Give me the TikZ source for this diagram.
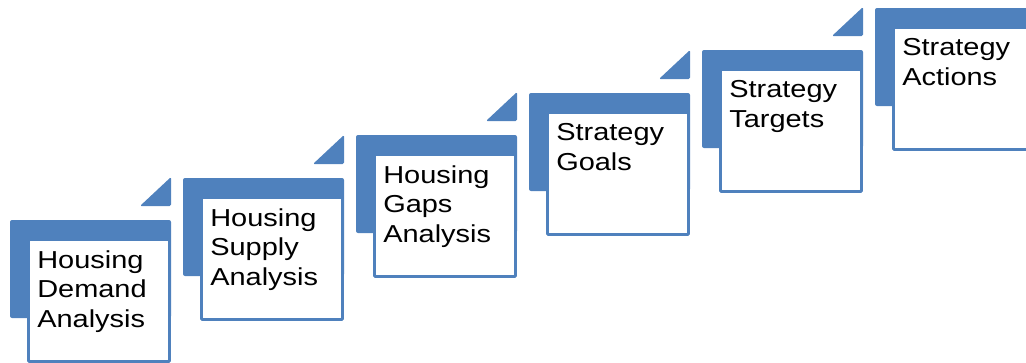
\documentclass[tikz,border=0pt]{standalone}
\usepackage{fontspec}
\newfontfamily\stepfont[FakeStretch=1.18]{Liberation Sans}
\definecolor{stepblue}{RGB}{79,129,189}
\tikzset{
  backbar/.style={fill=stepblue, rounded corners=1.5pt},
  corner/.style={fill=stepblue, rounded corners=1pt},
  stepbox/.style={fill=white, draw=stepblue, line width=2.2pt, rounded corners=0.8pt},
  steptext/.style={anchor=north west, inner sep=0pt, align=left, text=black,
    font=\stepfont\fontsize{18.4}{22.4}\selectfont}
}
\begin{document}
\begin{tikzpicture}[x=0.75pt,y=0.75pt,yscale=-1,xscale=1]
\useasboundingbox (0,0) rectangle (1026,362);

%Shape: Step 1
\fill [backbar] (10,220) rectangle (171,318) ;
\fill [corner] (140,206) -- (171,177) -- (171,206) -- cycle ;
\draw [stepbox] (28.5,239.5) rectangle (169.5,361.5) ;
%Shape: Step 2
\fill [backbar] (183,178) rectangle (344,276) ;
\fill [corner] (313,164) -- (344,135) -- (344,164) -- cycle ;
\draw [stepbox] (201.5,197.5) rectangle (342.5,319.5) ;
%Shape: Step 3
\fill [backbar] (356,135) rectangle (517,233) ;
\fill [corner] (486,121) -- (517,92) -- (517,121) -- cycle ;
\draw [stepbox] (374.5,154.5) rectangle (515.5,276.5) ;
%Shape: Step 4
\fill [backbar] (529,93) rectangle (690,191) ;
\fill [corner] (659,79) -- (690,50) -- (690,79) -- cycle ;
\draw [stepbox] (547.5,112.5) rectangle (688.5,234.5) ;
%Shape: Step 5
\fill [backbar] (702,50) rectangle (863,148) ;
\fill [corner] (832,36) -- (863,7) -- (863,36) -- cycle ;
\draw [stepbox] (720.5,69.5) rectangle (861.5,191.5) ;
%Shape: Step 6
\fill [backbar] (875,8) rectangle (1036,106) ;
\fill [corner] (1005,-6) -- (1036,-35) -- (1036,-6) -- cycle ;
\draw [stepbox] (893.5,27.5) rectangle (1034.5,149.5) ;

% Text Node
\node [steptext] (demand) at (37,250) {Housing\\Demand\\Analysis};
% Text Node
\node [steptext] (supply) at (210,208) {Housing\\Supply\\Analysis};
% Text Node
\node [steptext] (gaps) at (383,165) {Housing\\Gaps\\Analysis};
% Text Node
\node [steptext] (goals) at (556,123) {Strategy\\Goals};
% Text Node
\node [steptext] (targets) at (729,80) {Strategy\\Targets};
% Text Node
\node [steptext] (actions) at (902,38) {Strategy\\Actions};

\end{tikzpicture}
\end{document}
